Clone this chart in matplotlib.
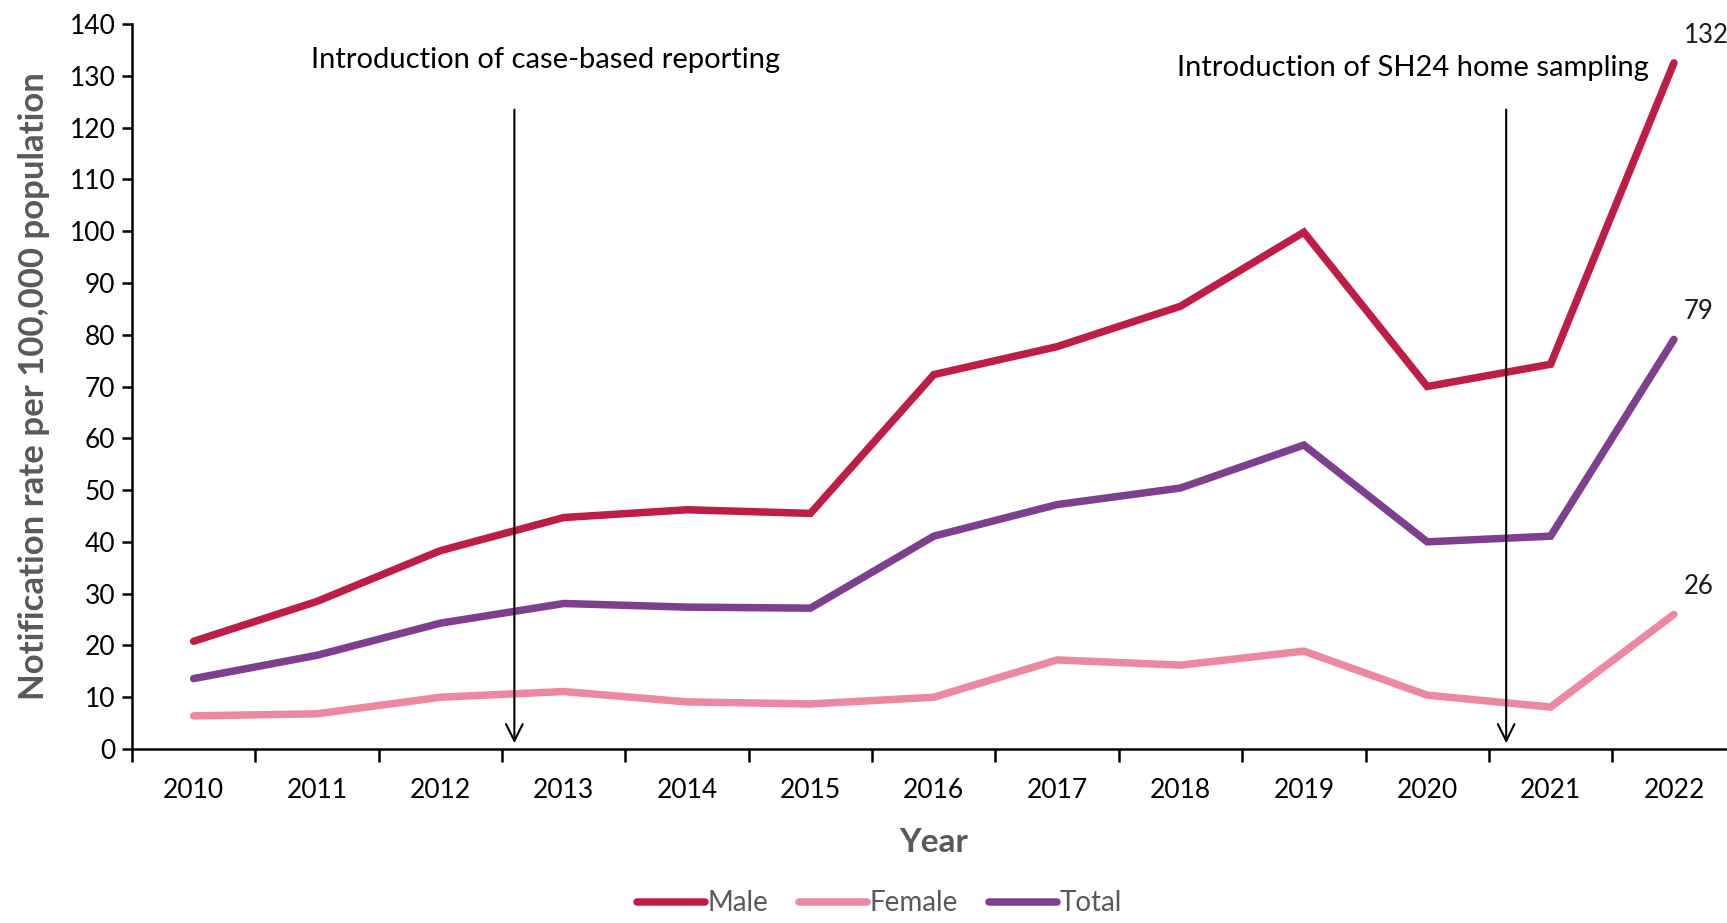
import matplotlib.pyplot as plt
import numpy as np

years = ['2010', '2011', '2012', '2013', '2014', '2015', '2016',
         '2017', '2018', '2019', '2020', '2021', '2022']
male = [20.8, 28.5, 38.3, 44.7, 46.2, 45.5, 72.3, 77.7, 85.5, 99.8, 70.0, 74.3, 132.5]
female = [6.4, 6.8, 10.0, 11.1, 9.1, 8.7, 10.0, 17.2, 16.2, 18.9, 10.4, 8.1, 26.0]
total = [13.6, 18.1, 24.3, 28.1, 27.4, 27.2, 41.1, 47.2, 50.4, 58.7, 40.0, 41.1, 79.1]
end_labels = ['132', '26', '79']

plt.rcParams['font.family'] = ['Lato', 'DejaVu Sans']

fig = plt.figure(figsize=(17.27, 9.23), dpi=100)
ax = fig.add_axes([0.0764, 0.1885, 0.9286, 0.7855])

x = np.arange(len(years))
series = [('Male', male, '#BE1E45'), ('Female', female, '#EC88A2'), ('Total', total, '#7E3F8F')]
for (name, vals, col), lab in zip(series, end_labels):
    ax.plot(x, vals, color=col, lw=5.4, label=name, solid_capstyle='round', solid_joinstyle='miter')
    ax.annotate(lab, (x[-1], vals[-1]), xytext=(7, 11), textcoords='offset points',
                fontsize=18.5, color='#1a1a1a', ha='left', va='bottom')

# intervention arrows
for xpos, txt, tx, ty, ha in [(2.6, 'Introduction of case-based reporting', 2.85, 133, 'center'),
                              (10.64, 'Introduction of SH24 home sampling', 11.8, 131.5, 'right')]:
    ax.annotate('', xy=(xpos, 0.6), xytext=(xpos, 124),
                arrowprops=dict(arrowstyle='->', color='black', lw=1.5, mutation_scale=30))
    ax.text(tx, ty, txt, ha=ha, va='center', fontsize=21, color='black')

ax.set_xlim(-0.5, 12.5)
ax.set_ylim(0, 140)
ax.set_yticks(np.arange(0, 141, 10))
ax.set_xticks(x)
ax.set_xticklabels(years)
ax.set_xticks(np.arange(-0.5, 12.6, 1), minor=True)
ax.tick_params(axis='x', which='major', length=0, pad=21, labelsize=19)
ax.tick_params(axis='x', which='minor', length=9, width=1.8, direction='out')
ax.tick_params(axis='y', length=7, width=1.8, labelsize=19, pad=5)

for s in ['top', 'right']:
    ax.spines[s].set_visible(False)
for s in ['left', 'bottom']:
    ax.spines[s].set_linewidth(1.8)

ax.set_ylabel('Notification rate per 100,000 population', fontsize=25, fontweight='bold',
              color='#595959', labelpad=14)
ax.set_xlabel('Year', fontsize=24, fontweight='bold', color='#595959', labelpad=18)

leg = ax.legend(loc='upper center', bbox_to_anchor=(0.466, -0.168), ncol=3, frameon=False,
                fontsize=20, handlelength=2.45, handletextpad=0.1, columnspacing=1.1,
                borderpad=0.2)
for t in leg.get_texts():
    t.set_color('#595959')

fig.savefig('out.png', dpi=100)
